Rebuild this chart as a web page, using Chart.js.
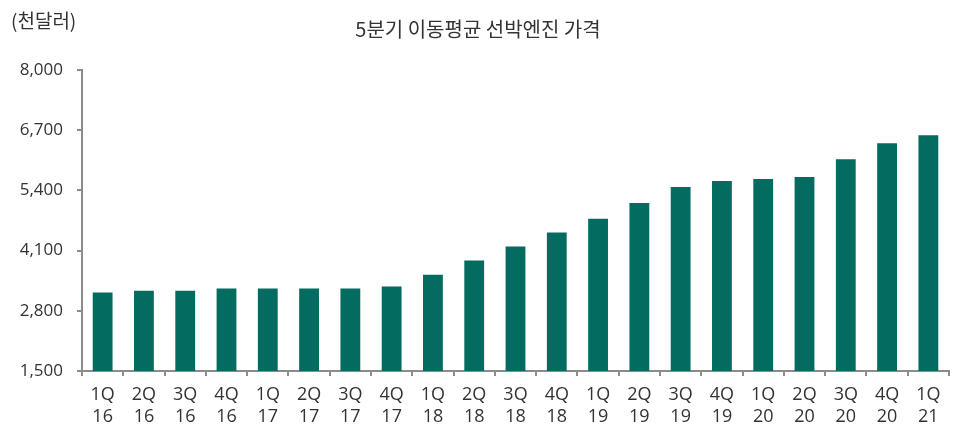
<!DOCTYPE html>
<html>
<head>
<meta charset="utf-8">
<script src="https://cdn.jsdelivr.net/npm/chart.js@4"></script>
<style>
  html, body { margin: 0; padding: 0; background: #fff; }
  #wrap { width: 957px; height: 426px; }
</style>
</head>
<body>
<div id="wrap"><canvas id="c" width="957" height="426"></canvas></div>
<script>
const quarters = ['1Q','2Q','3Q','4Q','1Q','2Q','3Q','4Q','1Q','2Q','3Q','4Q','1Q','2Q','3Q','4Q','1Q','2Q','3Q','4Q','1Q'];
const years = ['16','16','16','16','17','17','17','17','18','18','18','18','19','19','19','19','20','20','20','20','21'];
const prices = [3195, 3235, 3235, 3280, 3280, 3280, 3280, 3325, 3580, 3885, 4190, 4490, 4790, 5130, 5475, 5605, 5645, 5690, 6075, 6420, 6590];
const yTicks = [1500, 2800, 4100, 5400, 6700, 8000];

const title = '5분기 이동평균 선박엔진 가격';
const unit = '(천달러)';
const barColor = '#036b60';
const textColor = '#333333';
const axisColor = '#8c8c8c';
const fontFam = '"Open Sans", "Noto Sans CJK KR", sans-serif';

const labels = quarters.map((q, i) => [q, years[i]]);

// 제목, 단위 텍스트
const textPlugin = {
  id: 'texts',
  afterDraw(chart) {
    const ctx = chart.ctx;
    ctx.save();
    ctx.fillStyle = textColor;
    ctx.textBaseline = 'middle';
    ctx.font = '20px "Noto Sans CJK KR", sans-serif';
    ctx.textAlign = 'center';
    ctx.fillText(title, 478, 29);
    ctx.font = '19px "Noto Sans CJK KR", sans-serif';
    ctx.textAlign = 'left';
    ctx.fillText(unit, 11, 21);
    ctx.restore();
  }
};

new Chart(document.getElementById('c'), {
  type: 'bar',
  data: {
    labels: labels,
    datasets: [{
      label: title,
      data: prices,
      backgroundColor: barColor,
      borderWidth: 0,
      barPercentage: 0.48,
      categoryPercentage: 1.0
    }]
  },
  options: {
    responsive: false,
    animation: false,
    layout: { padding: { top: 70, right: 8, left: 0, bottom: 0 } },
    plugins: {
      legend: { display: false },
      tooltip: { enabled: false }
    },
    scales: {
      x: {
        offset: true,
        grid: { display: true, offset: true, drawOnChartArea: false, drawTicks: true, tickLength: 5, color: axisColor, lineWidth: 2 },
        border: { display: true, color: axisColor, width: 2 },
        ticks: { color: textColor, font: { family: fontFam, size: 18, lineHeight: 1.2 }, padding: 8, maxRotation: 0, autoSkip: false },
        afterFit(scale) { scale.height = 55; }
      },
      y: {
        min: 1500,
        max: 8000,
        afterBuildTicks(scale) { scale.ticks = yTicks.map(v => ({ value: v })); },
        grid: { display: true, drawOnChartArea: false, drawTicks: true, tickLength: 5, color: axisColor, lineWidth: 2 },
        border: { display: true, color: axisColor, width: 2 },
        ticks: {
          color: textColor,
          font: { family: fontFam, size: 17 },
          padding: 14,
          callback: v => v.toLocaleString('en-US')
        },
        afterFit(scale) { scale.width = 82; }
      }
    }
  },
  plugins: [textPlugin]
});
</script>
</body>
</html>
